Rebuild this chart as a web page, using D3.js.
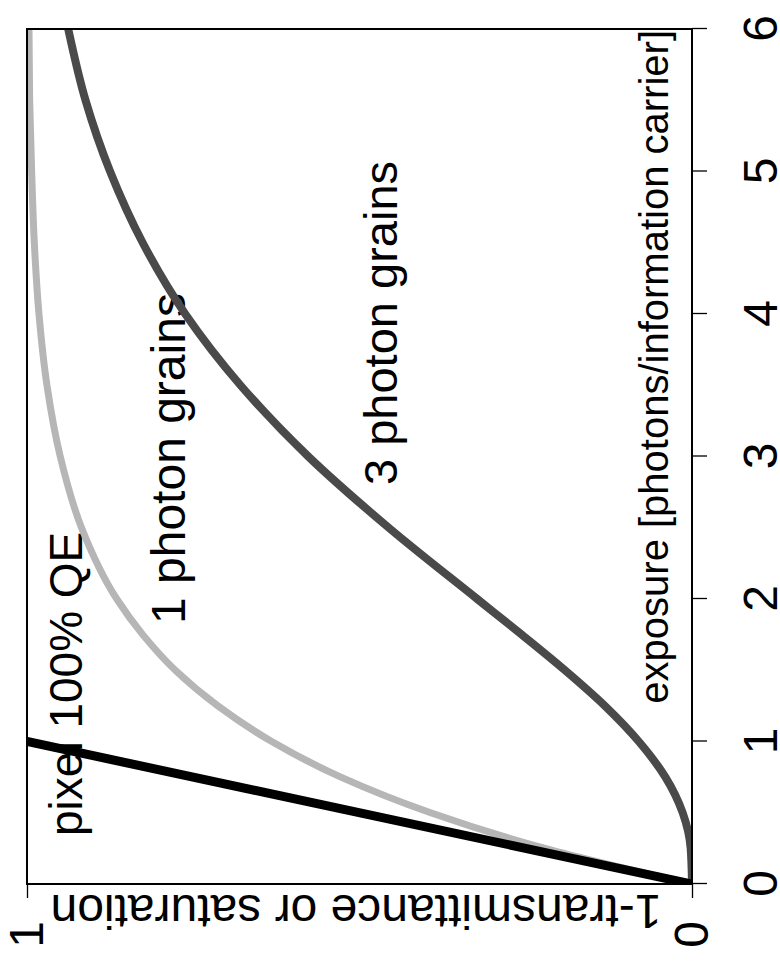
<!DOCTYPE html>
<html>
<head>
<meta charset="utf-8">
<script src="https://cdn.jsdelivr.net/npm/d3@7"></script>
<style>
  body { margin: 0; background: #fff; }
  text { font-family: "Liberation Sans", Arial, sans-serif; }
</style>
</head>
<body>
<div id="container"></div>
<script>
// values
const exposure = [0, 0.25, 0.5, 0.75, 1, 1.25, 1.5, 1.75, 2, 2.5, 3, 3.5, 4, 4.5, 5, 5.5, 6];
const onePhoton = [0, 0.221, 0.393, 0.528, 0.632, 0.713, 0.777, 0.826, 0.865, 0.918, 0.95, 0.97, 0.982, 0.989, 0.993, 0.996, 0.997];
const threePhoton = [0, 0.002, 0.014, 0.04, 0.08, 0.131, 0.191, 0.256, 0.323, 0.456, 0.577, 0.679, 0.762, 0.826, 0.875, 0.912, 0.938];
const pixelExposure = [0, 1];
const pixelValue = [0, 1];
const xTicks = [0, 1, 2, 3, 4, 5, 6];
const yTicks = [0, 1];

const plotW = 855;   // exposure direction
const plotH = 665;   // 1-transmittance direction

const svg = d3.select('#container')
  .append('svg')
  .attr('width', 780)
  .attr('height', 961);

// the whole chart is turned a quarter turn counter-clockwise
const g = svg.append('g')
  .attr('transform', 'translate(27,884) rotate(-90)');

const x = d3.scaleLinear().domain([0, 6]).range([0, plotW]);
const y = d3.scaleLinear().domain([0, 1]).range([plotH, 0]);

g.append('clipPath')
  .attr('id', 'plot-clip')
  .append('rect')
  .attr('width', plotW)
  .attr('height', plotH);

// labels
g.append('text')
  .attr('x', 48).attr('y', 55)
  .attr('font-size', 46)
  .text('pixel 100% QE');

g.append('text')
  .attr('x', 260).attr('y', 158)
  .attr('font-size', 48)
  .text('1 photon grains');

g.append('text')
  .attr('x', 399).attr('y', 370)
  .attr('font-size', 47)
  .text('3 photon grains');

g.append('text')
  .attr('x', 854).attr('y', 641)
  .attr('text-anchor', 'end')
  .attr('font-size', 40)
  .text('exposure [photons/information carrier]');

g.append('text')
  .attr('transform', 'translate(-11,329) rotate(-90)')
  .attr('text-anchor', 'middle')
  .attr('font-size', 48)
  .text('1-transmittance or saturation');

// curves
const line = d3.line()
  .x(d => x(d[0]))
  .y(d => y(d[1]))
  .curve(d3.curveMonotoneX);

const curves = g.append('g').attr('clip-path', 'url(#plot-clip)');

curves.append('path')
  .datum(exposure.map((e, i) => [e, threePhoton[i]]))
  .attr('d', line)
  .attr('fill', 'none')
  .attr('stroke', '#4a4a4a')
  .attr('stroke-width', 8);

curves.append('path')
  .datum(exposure.map((e, i) => [e, onePhoton[i]]))
  .attr('d', line)
  .attr('fill', 'none')
  .attr('stroke', '#b6b6b6')
  .attr('stroke-width', 7);

curves.append('path')
  .datum(pixelExposure.map((e, i) => [e, pixelValue[i]]))
  .attr('d', line)
  .attr('fill', 'none')
  .attr('stroke', '#000')
  .attr('stroke-width', 9);

// axes
const xAxis = g.append('g')
  .attr('transform', `translate(0,${plotH})`)
  .call(d3.axisBottom(x).tickValues(xTicks).tickSize(15).tickPadding(36).tickFormat(d3.format('d')));

const yAxis = g.append('g')
  .call(d3.axisLeft(y).tickValues(yTicks).tickSize(14).tickPadding(23).tickFormat(d3.format('d')));

[xAxis, yAxis].forEach(a => {
  a.attr('font-size', 48).attr('font-family', '"Liberation Sans", Arial, sans-serif');
  a.select('.domain').remove();
  a.selectAll('line').attr('stroke', '#000').attr('stroke-width', 1.3);
  a.selectAll('text').attr('fill', '#000');
});

g.append('rect')
  .attr('width', plotW)
  .attr('height', plotH)
  .attr('fill', 'none')
  .attr('stroke', '#000')
  .attr('stroke-width', 2);
</script>
</body>
</html>
